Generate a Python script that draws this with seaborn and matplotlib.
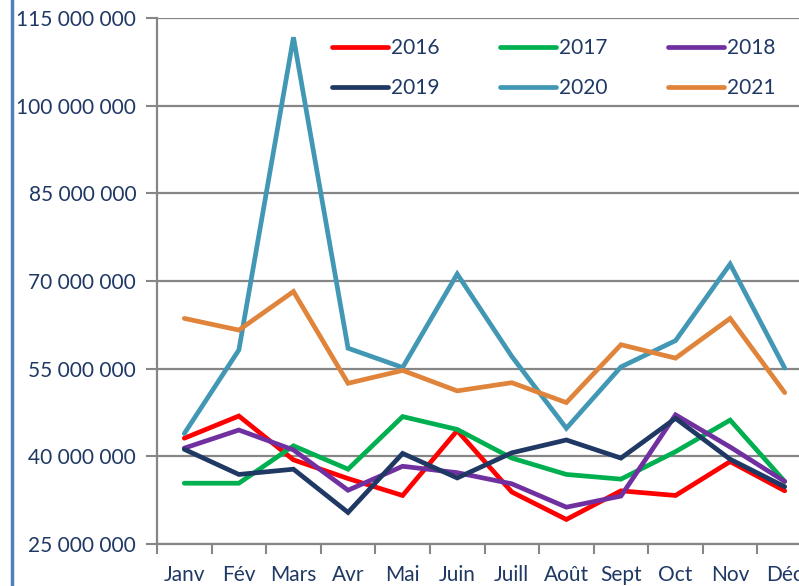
import matplotlib
matplotlib.use("Agg")
import pandas as pd
import matplotlib.pyplot as plt
import seaborn as sns
from matplotlib.lines import Line2D
from matplotlib.ticker import FuncFormatter

months = ['Janv', 'Fév', 'Mars', 'Avr', 'Mai', 'Juin', 'Juill', 'Août', 'Sept', 'Oct', 'Nov', 'Déc']
years = ['2016', '2017', '2018', '2019', '2020', '2021']

# values in millions
v2016 = [43.1, 46.9, 39.4, 36.2, 33.3, 44.4, 33.9, 29.2, 34.1, 33.3, 39.1, 34.1]
v2017 = [35.4, 35.4, 41.8, 37.8, 46.8, 44.6, 39.7, 36.9, 36.1, 40.8, 46.2, 35.7]
v2018 = [41.4, 44.5, 41.1, 34.2, 38.3, 37.2, 35.3, 31.3, 33.2, 47.1, 41.6, 35.7]
v2019 = [41.2, 36.9, 37.8, 30.4, 40.5, 36.3, 40.6, 42.8, 39.7, 46.5, 39.5, 34.8]
v2020 = [43.9, 58.2, 111.7, 58.5, 55.2, 71.2, 57.1, 44.8, 55.3, 59.8, 72.9, 55.1]
v2021 = [63.6, 61.6, 68.2, 52.5, 54.7, 51.2, 52.6, 49.2, 59.1, 56.8, 63.6, 50.9]

colors = ['#FF0000', '#00B050', '#7030A0', '#1F3864', '#4298B4', '#DF843A']
text_color = '#1F3864'
grid_color = '#868686'

series = [v2016, v2017, v2018, v2019, v2020, v2021]
rows = []
for year, vals in zip(years, series):
    for i, v in enumerate(vals):
        rows.append({'Mois': i, 'Annee': year, 'Valeur': v * 1e6})
df = pd.DataFrame(rows)

sns.set_style("white")
plt.rcParams['font.family'] = ['Lato', 'DejaVu Sans']

fig = plt.figure(figsize=(7.99, 5.86), dpi=100)
ax = fig.add_axes([157 / 799, 1 - 544 / 586, 655 / 799, 526 / 586])

sns.lineplot(data=df, x='Mois', y='Valeur', hue='Annee', palette=colors,
             linewidth=3.4, sort=False, ax=ax, legend=True)

for line in ax.get_lines():
    line.set_solid_capstyle('round')
    line.set_solid_joinstyle('miter')

ax.set_ylim(25e6, 115e6)
ax.set_yticks([25e6, 40e6, 55e6, 70e6, 85e6, 100e6, 115e6])
ax.yaxis.set_major_formatter(FuncFormatter(lambda v, p: f"{int(round(v)):,}".replace(',', ' ')))
ax.set_xlim(-0.5, 11.5)
ax.set_xticks(range(12))
ax.set_xticklabels(months)
ax.set_xticks([i - 0.5 for i in range(13)], minor=True)
ax.tick_params(axis='x', which='major', length=0, pad=15, labelsize=15, labelcolor=text_color)
ax.tick_params(axis='x', which='minor', length=7, width=1.5, color=grid_color, direction='out', bottom=True)
ax.tick_params(axis='y', length=8, width=1.5, color=grid_color, direction='out', left=True,
               pad=7, labelsize=15, labelcolor=text_color)
ax.grid(axis='y', color=grid_color, linewidth=1.6)
ax.set_axisbelow(True)
ax.set_xlabel('')
ax.set_ylabel('')
for side in ['top', 'right']:
    ax.spines[side].set_visible(False)
for side in ['left', 'bottom']:
    ax.spines[side].set_color(grid_color)
    ax.spines[side].set_linewidth(1.6)

# legend is filled column by column, so reorder to read row by row
handles, labels = ax.get_legend_handles_labels()
order = [0, 3, 1, 4, 2, 5]
leg = ax.legend([handles[i] for i in order], [labels[i] for i in order], ncol=3,
                loc='upper left', bbox_to_anchor=(0.241, 0.993),
                frameon=True, facecolor='white', edgecolor='none', framealpha=1,
                fontsize=15, handlelength=2.7, handletextpad=0.15, columnspacing=2.9,
                labelspacing=0.95, borderpad=0.3)
for t in leg.get_texts():
    t.set_color(text_color)
for h in leg.get_lines():
    h.set_linewidth(3.4)
    h.set_solid_capstyle('round')

fig.add_artist(Line2D([12 / 799, 12 / 799], [0, 1], color='#4F81BD', linewidth=2.5,
                      transform=fig.transFigure))

fig.savefig('out.png', dpi=100)
